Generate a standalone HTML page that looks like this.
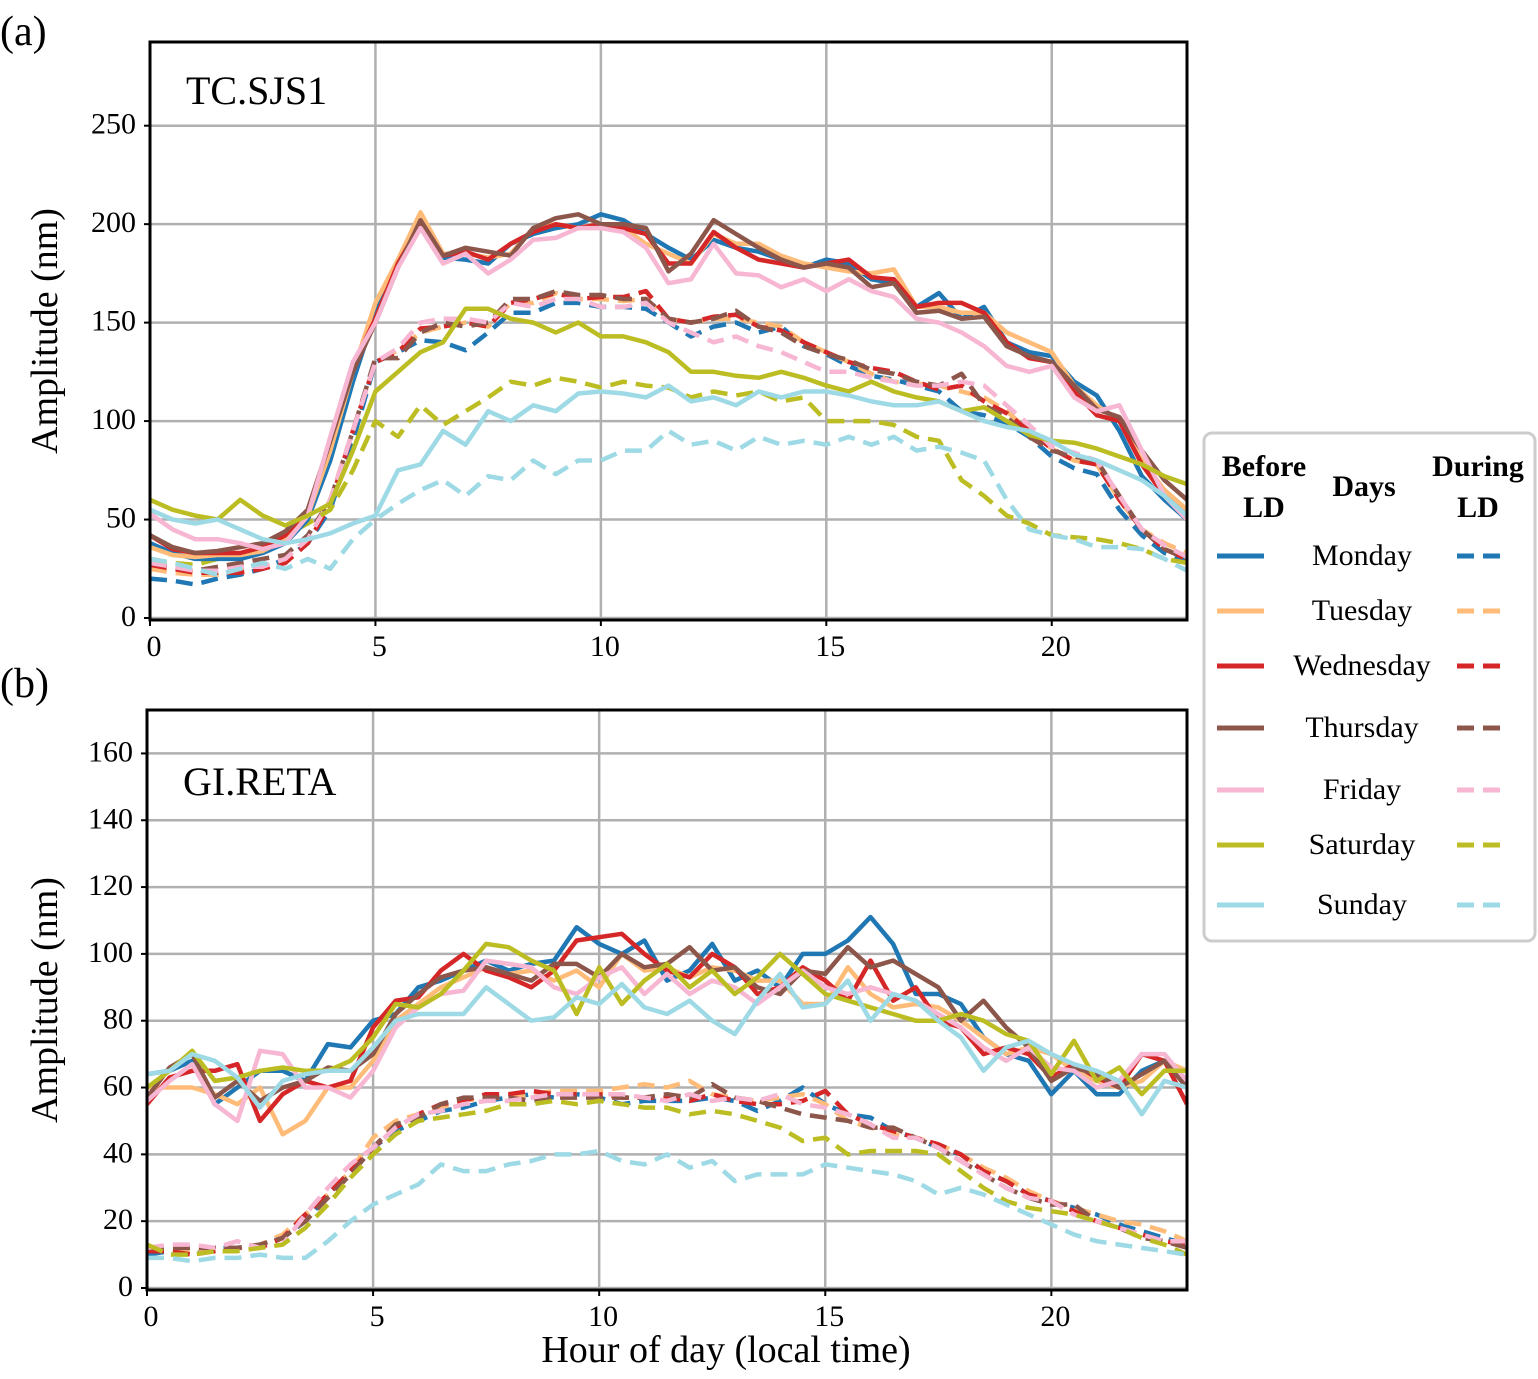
<!DOCTYPE html>
<html><head><meta charset="utf-8">
<style>
body{margin:0;background:#fff;width:1538px;height:1374px;overflow:hidden;font-family:"Liberation Serif",serif;}
svg text{font-family:"Liberation Serif",serif;}
</style></head>
<body>
<svg id="chart" width="1538" height="1374" xmlns="http://www.w3.org/2000/svg"></svg>
<script>
const days = ["Monday","Tuesday","Wednesday","Thursday","Friday","Saturday","Sunday"];
const colors = ["#1f77b4","#ffbb78","#d62728","#8c564b","#f7b6d2","#bcbd22","#9edae5"];
const hours = [0,0.5,1,1.5,2,2.5,3,3.5,4,4.5,5,5.5,6,6.5,7,7.5,8,8.5,9,9.5,10,10.5,11,11.5,12,12.5,13,13.5,14,14.5,15,15.5,16,16.5,17,17.5,18,18.5,19,19.5,20,20.5,21,21.5,22,22.5,23];
const xTicks = [0,5,10,15,20];
const yTicksA = [0,50,100,150,200,250];
const yTicksB = [0,20,40,60,80,100,120,140,160];

const aBefore = [
[38,33,30,30,30,33,38,50,80,120,155,180,200,183,182,180,190,195,198,200,205,202,195,188,182,192,188,186,182,178,182,180,172,170,158,165,152,158,140,135,133,120,113,95,72,60,50],
[36,32,31,32,32,34,40,52,85,125,160,182,206,185,185,183,185,198,200,198,200,198,190,185,180,195,190,190,184,180,178,176,175,177,158,158,155,155,145,140,135,118,108,100,80,65,55],
[42,35,33,33,33,36,42,55,90,128,152,180,200,184,186,182,190,196,200,198,200,198,195,180,180,196,188,182,180,178,180,182,173,172,158,160,160,155,140,132,130,115,103,100,78,62,52],
[42,36,33,34,36,38,44,55,90,125,150,178,202,184,188,186,184,198,203,205,200,200,198,176,185,202,195,188,182,178,180,178,168,170,155,156,152,153,138,133,130,118,106,102,85,70,60],
[53,45,40,40,38,35,38,52,92,130,150,178,198,180,185,175,182,192,193,198,198,196,188,170,172,190,175,174,168,172,166,172,166,163,152,150,145,138,128,125,128,112,105,108,85,62,50],
[60,55,52,50,60,52,47,52,58,85,115,125,135,140,157,157,152,150,145,150,143,143,140,135,125,125,123,122,125,122,118,115,120,115,112,110,105,107,100,93,90,89,86,82,78,72,68],
[55,50,48,50,45,40,38,40,43,48,52,75,78,95,88,105,100,108,105,114,115,114,112,118,110,112,108,115,112,115,115,113,110,108,108,110,105,100,97,95,90,83,80,75,70,62,52]];
const aDuring = [
[20,19,17,20,22,25,30,38,55,90,130,135,141,140,136,145,155,155,160,160,158,158,157,150,143,148,150,145,148,138,134,128,123,121,118,115,105,103,99,92,82,76,73,55,42,33,29],
[25,23,22,22,24,26,30,40,60,95,130,136,145,148,150,148,160,160,165,162,162,161,162,152,150,152,152,150,148,140,135,130,124,120,119,118,115,112,105,95,86,80,78,60,45,38,33],
[27,25,23,23,23,25,28,38,58,95,130,135,147,148,150,148,160,162,165,162,163,163,166,152,150,153,154,148,146,140,135,130,127,125,120,116,118,110,104,95,86,80,78,60,45,35,30],
[28,26,24,26,28,30,32,42,60,95,132,132,145,150,148,150,162,162,166,164,164,162,162,152,150,152,156,148,145,138,134,131,126,124,120,118,124,108,102,92,85,82,80,62,45,35,30],
[28,26,24,24,26,26,30,40,60,95,130,137,150,152,152,150,160,158,162,162,158,158,160,150,145,140,143,138,135,130,125,125,122,120,118,118,120,118,108,98,87,84,80,62,45,37,31],
[30,28,27,30,32,35,42,48,55,75,100,92,108,98,105,112,120,118,122,120,117,120,118,117,112,115,113,115,110,112,100,100,100,98,92,90,70,62,52,48,42,41,40,38,35,30,28],
[30,28,25,22,25,28,25,30,25,40,50,58,65,70,62,72,70,80,73,80,80,85,85,95,88,90,85,92,88,90,88,92,88,92,85,87,84,80,60,45,42,40,36,36,35,30,24]];
const bBefore = [
[64,65,68,55,60,65,65,62,73,72,80,82,90,92,95,98,95,97,98,108,103,100,104,92,95,103,92,95,90,100,100,104,111,103,88,88,85,75,70,68,58,65,58,58,65,68,62],
[60,60,60,58,55,60,46,50,60,60,68,80,85,90,93,96,94,95,92,95,90,100,95,96,93,96,95,92,92,85,85,96,88,84,85,84,80,75,70,72,70,65,62,60,62,68,65],
[55,63,65,65,67,50,58,62,60,62,78,86,87,95,100,95,93,90,95,104,105,106,100,95,93,100,96,88,90,96,92,86,98,86,90,80,78,70,72,70,63,67,63,60,70,68,55],
[57,66,70,57,62,56,60,62,66,65,70,82,88,93,95,96,94,92,97,97,93,100,96,97,102,95,96,90,88,95,94,102,96,98,94,90,80,86,78,72,62,66,64,60,64,68,60],
[56,62,67,55,50,71,70,60,60,57,65,78,84,88,89,98,97,96,90,88,93,96,88,94,88,92,90,85,90,95,90,88,90,88,86,82,78,72,68,72,66,65,60,62,70,70,62],
[60,65,71,62,63,65,66,65,65,68,75,85,84,88,95,103,102,98,95,82,96,85,92,97,90,95,88,93,100,94,88,86,84,82,80,80,82,80,76,74,64,74,62,66,58,65,65],
[64,65,70,68,63,54,62,64,65,65,72,80,82,82,82,90,85,80,81,87,85,91,84,82,86,80,76,86,94,84,85,92,80,88,86,80,75,65,72,74,70,67,65,62,52,62,60]];
const bDuring = [
[10,11,10,12,12,13,15,20,28,35,42,47,50,53,54,56,57,58,57,58,57,55,56,56,56,57,56,53,56,60,55,52,51,47,45,42,40,35,32,28,26,24,22,19,17,15,13],
[12,12,11,12,12,13,16,22,28,35,45,50,52,54,56,57,57,58,59,59,59,60,61,60,62,58,57,56,57,58,55,50,48,46,45,43,40,36,33,29,26,24,22,20,19,17,14],
[11,11,10,11,12,12,15,22,28,35,42,48,52,55,56,58,58,59,58,58,58,57,57,57,56,58,56,55,55,56,59,52,49,47,45,43,40,35,32,28,26,23,20,18,16,14,13],
[12,12,12,12,12,13,15,20,27,34,42,49,51,55,57,57,57,56,57,57,57,57,57,58,57,61,57,56,54,52,51,50,48,48,45,42,38,34,30,27,25,25,20,18,15,14,12],
[12,13,13,12,14,12,13,22,30,37,42,48,52,53,55,56,56,57,58,58,58,58,57,56,58,56,57,56,58,55,54,52,49,45,45,42,38,34,30,27,26,22,20,18,16,14,14],
[13,10,10,11,11,12,13,18,25,33,40,46,50,51,52,53,55,55,56,55,56,55,54,54,52,53,52,50,48,44,45,40,41,41,41,40,35,30,26,24,23,22,20,18,15,13,10],
[9,9,8,9,9,10,9,9,14,20,25,28,31,37,35,35,37,38,40,40,41,38,37,40,36,38,32,34,34,34,37,36,35,34,32,28,30,28,25,22,19,16,14,13,12,11,10]];

const NS="http://www.w3.org/2000/svg";
const svg=document.getElementById('chart');
function mk(tag,attrs,parent){const e=document.createElementNS(NS,tag);for(const k in attrs)e.setAttribute(k,attrs[k]);(parent||svg).appendChild(e);return e;}

const panels=[
 {id:'a',left:150,right:1187,top:42,bottom:620,y0:618,ymax:292.5,yt:yTicksA,before:aBefore,during:aDuring,label:"TC.SJS1",labelY:104,tag:"(a)",tagY:45},
 {id:'b',left:147,right:1187,top:710,bottom:1290,y0:1288,ymax:173,yt:yTicksB,before:bBefore,during:bDuring,label:"GI.RETA",labelY:795,tag:"(b)",tagY:697}
];
panels.forEach(p=>{
  const g=mk('g',{});
  
  
  const xs=h=>p.left+(p.right-p.left)*h/23;
  const ys=v=>p.y0-(p.y0-p.top)*v/p.ymax;
  const grid=mk('g',{},g);
  
  
  xTicks.forEach(t=>{mk('line',{x1:xs(t),x2:xs(t),y1:p.top,y2:p.bottom,stroke:'#b0b0b0','stroke-width':2.5},grid);});
  p.yt.forEach(t=>{mk('line',{x1:p.left,x2:p.right,y1:ys(t),y2:ys(t),stroke:'#b0b0b0','stroke-width':2.5},grid);});
  const series=mk('g',{},g);
  
  
  const draw=(arr,i,dashed)=>{
    const d=arr.map((v,k)=>(k?'L':'M')+xs(hours[k]).toFixed(1)+','+ys(v).toFixed(1)).join('');
    const pa=mk('path',{d:d,fill:'none',stroke:colors[i],'stroke-width':4.5,'stroke-linejoin':'round'},series);
    if(dashed)pa.setAttribute('stroke-dasharray','17,9');
    
    
  };
  p.during.forEach((a,i)=>draw(a,i,true));
  p.before.forEach((a,i)=>draw(a,i,false));
  mk('rect',{x:p.left,y:p.top,width:p.right-p.left,height:p.bottom-p.top,fill:'none',stroke:'#000','stroke-width':3},g);
  xTicks.forEach(t=>{
    mk('line',{x1:xs(t),x2:xs(t),y1:p.bottom,y2:p.bottom+6,stroke:'#000','stroke-width':2},g);
    const tx=mk('text',{x:xs(t)+4,y:p.bottom+36,'font-size':30,'text-anchor':'middle'},g);tx.textContent=t;
    
    
  });
  p.yt.forEach(t=>{
    mk('line',{x1:p.left-6,x2:p.left,y1:ys(t),y2:ys(t),stroke:'#000','stroke-width':2},g);
    const tx=mk('text',{x:p.left-14,y:ys(t)+8,'font-size':30,'text-anchor':'end'},g);tx.textContent=t;
    
    
  });
  const yl=mk('text',{x:0,y:0,'font-size':38,'text-anchor':'middle',transform:`translate(57,${(p.top+p.bottom)/2}) rotate(-90)`},g);
  yl.textContent='Amplitude (nm)';
  
  
  const lb=mk('text',{x:p.left+36,y:p.labelY,'font-size':40},g);lb.textContent=p.label;
  
  
  const tg=mk('text',{x:0,y:p.tagY,'font-size':42},g);tg.textContent=p.tag;
  
  
});
const xl=mk('text',{x:726,y:1362,'font-size':38,'text-anchor':'middle'});xl.textContent='Hour of day (local time)';



const lg=mk('g',{});


mk('rect',{x:1204,y:433,width:331,height:508,rx:8,fill:'#fff',stroke:'#ccc','stroke-width':3},lg);
const hd=[["Before",1264,476],["LD",1264,517],["Days",1364,496],["During",1478,476],["LD",1478,517]];
hd.forEach(h=>{const t=mk('text',{x:h[1],y:h[2],'font-size':30,'font-weight':'bold','text-anchor':'middle'},lg);t.textContent=h[0];

});
const rowsY=[556,611,666,728,790,845,905];
days.forEach((d,i)=>{
  const y=rowsY[i];
  const e=mk('g',{},lg);
  
  
  mk('line',{x1:1217,x2:1264,y1:y,y2:y,stroke:colors[i],'stroke-width':5},e);
  mk('line',{x1:1457,x2:1508,y1:y,y2:y,stroke:colors[i],'stroke-width':5,'stroke-dasharray':'17,9'},e);
  const t=mk('text',{x:1362,y:y+9,'font-size':30,'text-anchor':'middle'},e);t.textContent=d;
});
</script>
</body></html>
